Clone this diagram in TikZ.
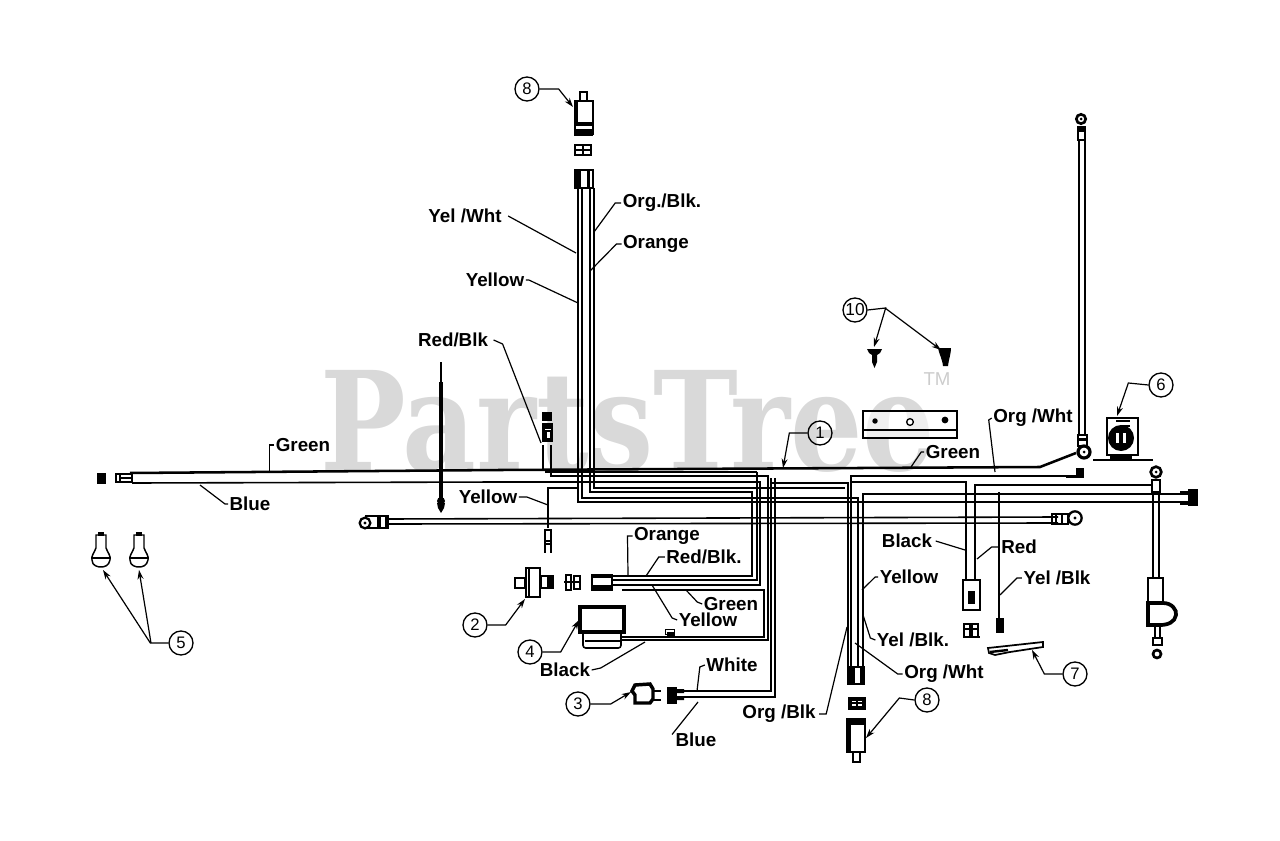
\documentclass[tikz,border=0pt]{standalone}
\usepackage{fontspec}
\setmainfont{Liberation Sans}
\newfontfamily\wmfont{DejaVu Serif}
\usetikzlibrary{arrows.meta}
\tikzset{
  wire/.style={line width=1.9pt,line join=miter},
  thinw/.style={line width=1.2pt,line join=miter},
  lead/.style={line width=0.9pt},
  leadarr/.style={lead,-{Stealth[length=7pt,width=4.5pt]}},
  lab/.style={font=\bfseries\fontsize{14.1}{15}\selectfont,inner sep=1pt,text=black},
  num/.style={circle,draw,line width=1pt,minimum size=18pt,inner sep=0pt,font=\fontsize{12.5}{12.5}\selectfont},
  part/.style={draw,line width=1.7pt,fill=white},
  blk/.style={draw,fill=black,line width=0.5pt},
  ring/.style={circle,draw,line width=1.7pt,fill=white,inner sep=0pt}
}
\begin{document}
\begin{tikzpicture}[x=0.75pt,y=-0.75pt]
\useasboundingbox (0,0) rectangle (1280,841);
% watermark
\node[font=\wmfont\bfseries\fontsize{100}{100}\selectfont,text=black!15,anchor=base west,inner sep=0pt,xscale=0.855,yscale=1.03,transform shape] (wm) at (320,470) {PartsTree};
\node[font=\fontsize{14}{14}\selectfont,text=black!20,inner sep=0pt] (tm) at (937,379) {TM};

% ---- harness wires
\draw[wire] (130,473) -- (500,470) -- (1040,467) -- (1076,453);
\draw[thinw] (132,483) -- (500,482) -- (760,482) -- (760,585) -- (612,585);
\draw[thinw] (543,445) -- (543,471);
\draw[wire] (551,445) -- (551,476) -- (768,476) -- (768,640) -- (622,640);
\draw[wire] (757,472) -- (757,580) -- (612,580);
\draw[wire] (545,472) -- (757,472);
% top bundle
\draw[wire] (578,188) -- (578,502) -- (1182,502);
\draw[thinw] (582,188) -- (582,498) -- (858,498) -- (858,667);
\draw[wire] (590,188) -- (590,492) -- (752,492) -- (752,576) -- (612,576);
\draw[thinw] (594,188) -- (594,488) -- (845,488);
\draw[wire] (548,528) -- (548,488) -- (578,488);
% right loop
\draw[wire] (622,590) -- (764,590) -- (764,637) -- (622,637);
\draw[wire] (771,478) -- (771,691) -- (680,691);
\draw[thinw] (775,478) -- (775,697) -- (680,697);
\draw[wire] (771,483) -- (848,483) -- (848,667);
% right harness
\draw[thinw] (1075,476) -- (851,476) -- (851,667);
\draw[wire] (851,482) -- (966,482) -- (966,580);
\draw[wire] (863,667) -- (863,494) -- (1182,494);
\draw[thinw] (975,580) -- (975,485) -- (1152,485);
\draw[wire] (999,620) -- (999,492);
\draw[thinw] (386,519) -- (1058,517);
\draw[thinw] (386,524) -- (1058,523);

% ---- antenna-like lead
\draw[line width=1pt] (441,362) -- (441,382);
\draw[line width=2.6pt] (441,382) -- (441,500);
\fill (441,501) circle (4);
\fill (437,503) -- (445,503) -- (444,508) -- (441,513) -- (438,508) -- cycle;

% ---- left end
\node[blk,minimum width=6pt,minimum height=7.5pt,inner sep=0pt] (cl) at (101,478) {};
\node[part,line width=1.2pt,minimum width=12pt,minimum height=6pt,inner sep=0pt] (cl2) at (124,478) {};
\draw[line width=0.8pt] (120,474) -- (120,483) (120,478) -- (132,478);

% ---- top connector (item 8)
\draw[line width=1pt] (580,101) -- (580,92) -- (587,92) -- (587,101);
\draw[part,line width=2pt] (575,101) rectangle (593,134);
\fill (574,122) rectangle (593,126);
\fill (574,129) rectangle (593,136);
\fill (575,101) rectangle (578,122);
\draw[line width=2.2pt] (575,145) -- (591,145) -- (591,155) -- (575,155) -- cycle (575,150) -- (591,150) (583,145) -- (583,155);
\draw[part,line width=1.5pt] (575,170) rectangle (593,188);
\fill (575,170) rectangle (581,188);
\fill (587,170) rectangle (590,188);

% ---- red/blk connector
\node[blk,minimum width=7pt,minimum height=6pt,inner sep=0pt] (rb1) at (547,416) {};
\draw[part] (543,424) rectangle (552,441);
\fill (543,424) rectangle (552,429);
\fill (543,429) rectangle (545,441);
\draw[line width=0.8pt] (546,431) rectangle (551,439);

% ---- yellow pin
\draw[line width=1.2pt] (545,530) rectangle (551,541);
\draw[line width=1.2pt] (545,541) -- (545,553) (551,541) -- (551,553) (545,544) -- (551,544);

% ---- component 2
\draw[line width=1.5pt] (515,578) rectangle (525,588);
\draw[part] (526,568) rectangle (540,597);
\draw[line width=1.2pt] (529,568) -- (529,597);
\draw[part,line width=1.5pt] (541,576) rectangle (553,588);
\fill (547,576) rectangle (553,588);
\draw[line width=1.8pt] (566,575) rectangle (571,590) (574,576) rectangle (580,589);
\draw[line width=1.2pt] (564,582) -- (580,582);
% connector at harness
\draw[part] (592,575) rectangle (612,590);
\fill (592,585) rectangle (612,591);
\fill (592,575) rectangle (612,578);

% ---- box 4
\draw[part,line width=2.4pt] (580,607) rectangle (624,632);
\draw[line width=1.2pt,rounded corners=2pt] (583,633) -- (583,648) -- (621,648) -- (621,633);
\draw[line width=1.2pt] (585,641) -- (621,641);
\node[part,line width=1pt,minimum width=7pt,minimum height=4pt,inner sep=0pt] (sq4) at (670,632) {};
\fill (667,632) rectangle (675,636);

% ---- item 3
\draw[line width=2.6pt] (635,685) -- (650,684) -- (653,689) -- (653,699) -- (650,703) -- (635,703) -- (635,695) -- (632,691) -- cycle;
\draw[line width=1pt] (653,691) -- (661,691) (653,700) -- (661,700);
\node[blk,minimum width=6.5pt,minimum height=12pt,inner sep=0pt] (c3) at (672,695) {};
\fill (676,689) rectangle (684,693) (676,696) rectangle (684,700);

% ---- terminal strap
\draw[line width=1.2pt] (386,516) rectangle (366,528);
\node[ring,minimum size=8pt] (r1) at (365,523) {};
\fill (365,523) circle (1.6);
\draw[line width=1.8pt] (380,516) rectangle (388,528);
\fill (377,516) rectangle (381,528);
\draw[line width=1.2pt] (1052,514) -- (1068,514) -- (1068,524) -- (1052,524) -- cycle (1056,514) -- (1056,524) (1062,514) -- (1062,524);
\node[ring,minimum size=10pt] (r2) at (1075,518) {};
\fill (1075,518) circle (1.6);

% ---- bottom connector
\draw[part] (848,667) rectangle (864,684);
\fill (848,667) rectangle (855,684);
\fill (860,667) rectangle (864,684);
\draw[line width=2.4pt] (850,699) rectangle (864,708);
\draw[line width=1.2pt] (850,703) -- (864,703) (857,699) -- (857,708);
\draw[part,line width=2pt] (847,719) rectangle (865,752);
\fill (847,719) rectangle (865,725);
\fill (847,719) rectangle (851,752);
\draw[line width=1.2pt] (853,752) -- (853,762) -- (860,762) -- (860,752);

% ---- black/red connector
\draw[part] (963,580) rectangle (980,610);
\fill (968,591) rectangle (975,604);
\draw[line width=1.8pt] (964,624) rectangle (970,637) (972,624) rectangle (978,637);
\draw[line width=1.4pt] (963,637) -- (980,637) (963,629) -- (979,629);
\fill (996,618) rectangle (1004,633);

% ---- pedal (item 7)
\draw[line width=1.3pt,fill=white] (988,648) -- (1043,642) -- (1043,647) -- (1010,652) -- (995,655) -- (989,653) -- cycle;
\draw[line width=1.8pt] (990,652) -- (1008,650);

% ---- bracket
\draw[line width=1.5pt,fill=white,fill opacity=0.6] (863,411) rectangle (957,438);
\draw[line width=1.5pt] (864,430) -- (957,430);
\node[ring,line width=1pt,fill=black,minimum size=3pt] (h1) at (875,421) {};
\node[ring,line width=1pt,minimum size=5pt] (h2) at (910,422) {};
\node[ring,line width=1pt,fill=black,minimum size=4pt] (h3) at (945,420) {};

% ---- tall rod
\node[ring,line width=2pt,minimum size=7pt] (t1) at (1081,119) {};
\fill (1081,119) circle (1.5);
\draw[line width=1.4pt] (1078,127) rectangle (1085,140);
\fill (1078,127) rectangle (1085,132);
\draw[line width=1.5pt] (1079,140) -- (1079,435);
\draw[line width=2pt] (1085,140) -- (1085,435);
\draw[line width=1.5pt] (1078,435) rectangle (1087,446);
\fill (1078,438) rectangle (1087,441);
\node[ring,minimum size=9pt,line width=2.4pt] (t2) at (1084,452) {};
\fill (1084,452) circle (1.5);

% ---- item 6
\draw[part] (1107,418) rectangle (1138,455);
\fill (1121,438) circle (13);
\fill[white] (1116,433) rectangle (1119,443);
\fill[white] (1123,433) rectangle (1126,443);
\draw[line width=1.5pt] (1116,421) -- (1130,421) (1120,426) -- (1130,426);
\draw[line width=2.2pt] (1093,460) -- (1153,460);
\fill (1110,455) rectangle (1132,460);

% ---- right eyelet rod
\node[ring,line width=2pt,minimum size=8pt] (e1) at (1156,472) {};
\fill (1156,472) circle (1.5);
\draw[line width=1.5pt] (1152,480) rectangle (1160,492);
\draw[line width=1.5pt] (1153,492) -- (1153,578);
\draw[line width=2pt] (1159,492) -- (1159,578);
\draw[line width=1.7pt,fill=white] (1148,578) rectangle (1163,605);
\draw[line width=2.8pt,fill=white] (1148,603) -- (1163,603) .. controls (1172,603) and (1177,610) .. (1176,615) .. controls (1175,622) and (1168,625) .. (1160,625) -- (1148,625) -- cycle;
\draw[line width=1.2pt] (1155,625) -- (1155,638) (1160,625) -- (1160,638);
\draw[line width=1.4pt] (1153,638) rectangle (1162,645);
\node[ring,line width=2pt,minimum size=6pt] (e2) at (1157,654) {};

% right end connector
\draw[line width=2.4pt] (1180,493) -- (1188,493) (1180,503) -- (1188,503);
\node[blk,minimum width=7pt,minimum height=12pt,inner sep=0pt] (ce) at (1193,497) {};
% org/wht end
\fill (1066,474.5) rectangle (1076,477.5);
\node[blk,minimum width=5.5pt,minimum height=6.5pt,inner sep=0pt] (ow) at (1080,473) {};

% ---- bulbs
\foreach \bx in {101,139}{
  \draw[line width=1.1pt,fill=white] (\bx-5,535) -- (\bx+5,535) -- (\bx+5,548) .. controls (\bx+7,553) and (\bx+10,556) .. (\bx+9,560) .. controls (\bx+8,566) and (\bx+3,567) .. (\bx,567) .. controls (\bx-3,567) and (\bx-9,566) .. (\bx-9,560) .. controls (\bx-10,556) and (\bx-7,553) .. (\bx-5,548) -- cycle;
  \draw[line width=0.8pt] (\bx-9,558) -- (\bx+9,558);
  \fill (\bx-3,532) rectangle (\bx+3,536);
}

% ---- clips (item 10)
\fill (867,349) -- (882,349) -- (880,353) -- (877,355) -- (877,362) -- (874.5,368) -- (872,362) -- (872,355) -- (869,353) -- cycle;
\fill (938,348) -- (951,348) .. controls (951,354) and (949,358) .. (948,366) -- (943,366) .. controls (942,358) and (939,354) .. (938,348) -- cycle;

% ---- circled numbers
\node[num] (n8a) at (527,89) {8};
\node[num] (n8b) at (927,700) {8};
\node[num] (n10) at (855,310) {\fontsize{13}{13}\selectfont 10};
\node[num] (n1) at (820,433) {1};
\node[num] (n6) at (1161,385) {6};
\node[num] (n5) at (181,643) {5};
\node[num] (n2) at (475,625) {2};
\node[num] (n4) at (530,652) {4};
\node[num] (n3) at (578,704) {3};
\node[num] (n7) at (1075,674) {7};

% ---- text labels
\node[lab] (lYW) at (465,216) {Yel /Wht};
\node[lab] (lOB) at (662,203) {Org./Blk.};
\node[lab] (lOr) at (656,244) {Orange};
\node[lab] (lYe) at (495,280) {Yellow};
\node[lab] (lRB) at (453,340) {Red/Blk};
\node[lab] (lGr) at (303,445) {Green};
\node[lab] (lBl) at (250,504) {Blue};
\node[lab] (lY2) at (488,497) {Yellow};
\node[lab] (lO2) at (667,536) {Orange};
\node[lab] (lR2) at (704,557) {Red/Blk.};
\node[lab] (lG2) at (731,604) {Green};
\node[lab] (lY3) at (708,620) {Yellow};
\node[lab] (lBk) at (565,670) {Black};
\node[lab] (lWh) at (732,665) {White};
\node[lab] (lB2) at (696,740) {Blue};
\node[lab] (lO3) at (779,714) {Org /Blk};
\node[lab] (lY4) at (909,577) {Yellow};
\node[lab] (lYB) at (913,640) {Yel /Blk.};
\node[lab] (lOW) at (944,674) {Org /Wht};
\node[lab] (lO4) at (1033,418) {Org /Wht};
\node[lab] (lG3) at (953,452) {Green};
\node[lab] (lB3) at (907,541) {Black};
\node[lab] (lRd) at (1019,547) {Red};
\node[lab] (lY5) at (1057,578) {Yel /Blk};

% ---- leader targets
\coordinate (tn8a) at (573,107);
\coordinate (tYW) at (576,253);
\coordinate (tOB) at (594,232);
\coordinate (tOr) at (590,271);
\coordinate (tYe) at (578,303);
\coordinate (tRB) at (541,443);
\coordinate (tGr) at (268,472);
\coordinate (tBl) at (200,485);
\coordinate (tY2) at (548,505);
\coordinate (tO2) at (628,575);
\coordinate (tR2) at (646,576);
\coordinate (tG2) at (686,590);
\coordinate (tY3) at (652,585);
\coordinate (tBk) at (645,642);
\coordinate (tWh) at (697,691);
\coordinate (tB2) at (698,702);
\coordinate (tO3) at (847,627);
\coordinate (tY4) at (862,590);
\coordinate (tYB) at (863,615);
\coordinate (tOW) at (855,643);
\coordinate (tO4) at (995,472);
\coordinate (tG3) at (911,467);
\coordinate (tB3) at (965,550);
\coordinate (tRd) at (977,559);
\coordinate (tY5) at (1000,595);
\coordinate (tn1) at (783,468);
\coordinate (tn6) at (1117,416);
\coordinate (tn8b) at (866,738);
\coordinate (tn7) at (1032,650);
\coordinate (tn10a) at (874,347);
\coordinate (tn10b) at (941,350);
\coordinate (tn5a) at (103,570);
\coordinate (tn5b) at (139,570);
\coordinate (tn2) at (525,599);
\coordinate (tn4) at (579,620);
\coordinate (tn3) at (631,692);

% ---- leaders
\draw[lead] (lYW.east) ++(5,0) -- (tYW);
\draw[lead] (lOB.west) -- ++(-6,0) -- (tOB);
\draw[lead] (lOr.west) -- ++(-5,0) -- (tOr);
\draw[lead] (lYe.east) -- ++(3,0) -- (tYe);
\draw[lead] (lRB.east) ++(4,0) -- ++(9,4) -- (tRB);
\draw[lead] (lGr.west) -- ++(-5,0) |- (tGr);
\draw[lead] (lBl.west) -- ++(-3,0) -- (tBl);
\draw[lead] (lY2.east) -- ++(8,0) -- (tY2);
\draw[lead] (lO2.west) -- ++(-5,0) -- (tO2);
\draw[lead] (lR2.west) -- ++(-6,0) -- (tR2);
\draw[lead] (lG2.west) -- ++(-5,-2) -- (tG2);
\draw[lead] (lY3.west) -- ++(-5,-2) -- (tY3);
\draw[lead] (lBk.east) -- ++(9,-2) -- (tBk);
\draw[lead] (lWh.west) -- ++(-5,2) -- (tWh);
\draw[lead] (lB2.north west) ++(-2,3) -- (tB2);
\draw[lead] (lO3.east) ++(2,0) -- ++(7,0) -- (tO3);
\draw[lead] (lY4.west) -- ++(-3,0) -- (tY4);
\draw[lead] (lYB.west) -- ++(-5,-2) -- (tYB);
\draw[lead] (lOW.west) -- ++(-5,0) -- (tOW);
\draw[lead] (lO4.west) -- ++(-3,2) -- (tO4);
\draw[lead] (lG3.west) -- ++(-3,0) -- (tG3);
\draw[lead] (lB3.east) ++(2,0) -- (tB3);
\draw[lead] (lRd.west) -- ++(-8,0) -- (tRd);
\draw[lead] (lY5.west) -- ++(-5,0) -- (tY5);
\draw[leadarr] (n8a.east) -- ++(19,0) -- (tn8a);
\draw[leadarr] (n1.west) -- ++(-18,0) -- (tn1);
\draw[leadarr] (n6.west) -- ++(-20,-2) -- (tn6);
\draw[leadarr] (n8b.west) -- ++(-15,-2) -- (tn8b);
\draw[leadarr] (n7.west) -- ++(-18,0) -- (tn7);
\draw[leadarr] (n10.east) -- ++(18,-2) -- (tn10a);
\draw[leadarr] (885,308) -- (tn10b);
\draw[leadarr] (n5.west) -- ++(-18,0) -- (tn5a);
\draw[leadarr] (151,643) -- (tn5b);
\draw[leadarr] (n2.east) -- ++(18,0) -- (tn2);
\draw[leadarr] (n4.east) -- ++(18,0) -- (tn4);
\draw[leadarr] (n3.east) -- ++(20,0) -- (tn3);
\end{tikzpicture}
\end{document}
